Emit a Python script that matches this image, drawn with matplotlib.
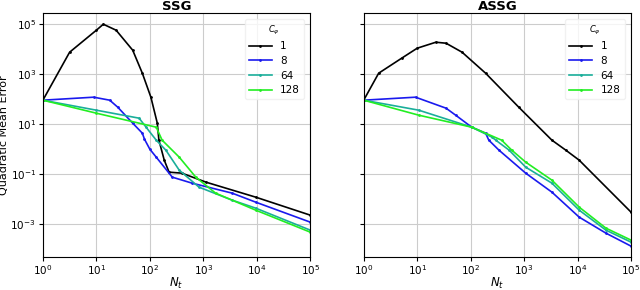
import numpy as np
import matplotlib.pyplot as plt

# values, as log10 exponents (x = log10 N_t, y = log10 error)
cphi = ["1", "8", "64", "128"]
colors = ["black", "#1a1aee", "#1aae9a", "#22ee22"]

ssg_x = [
    [0, 0.5, 1.0, 1.13, 1.37, 1.68, 1.86, 2.02, 2.14, 2.17, 2.27, 2.36, 2.6, 3.05, 3.98, 5.0],
    [0, 0.95, 1.25, 1.4, 1.68, 1.86, 1.9, 2.0, 2.12, 2.42, 2.79, 3.54, 3.98, 5.0],
    [0, 1.0, 1.8, 1.93, 2.12, 2.3, 2.55, 2.92, 3.54, 3.98, 5.0],
    [0, 1.0, 2.12, 2.23, 2.55, 2.86, 3.23, 3.98, 5.0],
]
ssg_y = [
    [1.96, 3.88, 4.76, 5.0, 4.76, 3.96, 3.04, 2.08, 1.04, 0.36, -0.44, -0.92, -0.96, -1.32, -1.92, -2.64],
    [1.96, 2.08, 1.96, 1.68, 1.04, 0.64, 0.4, 0.0, -0.32, -1.12, -1.36, -1.76, -2.12, -2.92],
    [1.96, 1.56, 1.24, 0.88, 0.36, -0.04, -0.84, -1.52, -2.04, -2.36, -3.24],
    [1.96, 1.44, 0.88, 0.36, -0.32, -1.12, -1.76, -2.44, -3.32],
]

assg_x = [
    [0, 0.28, 0.71, 1.0, 1.35, 1.54, 1.84, 2.28, 2.9, 3.52, 3.78, 4.03, 5.0],
    [0, 0.97, 1.54, 1.72, 2.02, 2.28, 2.34, 2.53, 3.03, 3.52, 4.03, 4.53, 5.0],
    [0, 1.03, 2.02, 2.4, 2.47, 2.72, 3.03, 3.52, 4.03, 4.53, 5.0],
    [0, 1.03, 2.02, 2.58, 2.77, 3.03, 3.52, 4.03, 4.53, 5.0],
]
assg_y = [
    [1.96, 3.04, 3.64, 4.04, 4.28, 4.24, 3.88, 3.04, 1.68, 0.36, -0.04, -0.44, -2.52],
    [1.96, 2.08, 1.64, 1.36, 0.88, 0.64, 0.36, -0.04, -0.96, -1.72, -2.72, -3.36, -3.88],
    [1.96, 1.56, 0.88, 0.48, 0.36, -0.04, -0.72, -1.36, -2.44, -3.24, -3.72],
    [1.96, 1.36, 0.88, 0.36, -0.04, -0.52, -1.24, -2.32, -3.16, -3.64],
]

fig, axes = plt.subplots(1, 2, figsize=(6.4, 2.9), dpi=100, sharey=True)
plt.subplots_adjust(left=0.067, right=0.986, top=0.955, bottom=0.115, wspace=0.2)

panels = [("SSG", ssg_x, ssg_y), ("ASSG", assg_x, assg_y)]
for ax, (title, xs, ys) in zip(axes, panels):
    for lab, c, lx, ly in zip(cphi, colors, xs, ys):
        ax.plot(10.0 ** np.array(lx), 10.0 ** np.array(ly), color=c, lw=1.2,
                marker=".", markersize=2, label=lab)
    ax.set_xscale("log")
    ax.set_yscale("log")
    ax.set_xlim(1, 1e5)
    ax.set_ylim(5e-5, 2.8e5)
    ax.set_title(title, fontsize=9.5, fontweight="bold", pad=2)
    ax.set_xlabel("$N_t$", fontsize=8.5, labelpad=-1)
    ax.grid(True, color="#cccccc", lw=0.8)
    ax.set_yticks([1e-3, 1e-1, 1e1, 1e3, 1e5])
    ax.set_xticks([1, 10, 1e2, 1e3, 1e4, 1e5])
    ax.minorticks_off()
    ax.tick_params(labelsize=7.5, length=3, pad=2)
    ax.legend(title="$C_\\varphi$", fontsize=7.5, title_fontsize=6,
              loc="upper right", framealpha=0.8, edgecolor="#eeeeee",
              handlelength=2.2, labelspacing=0.45, borderaxespad=0.6)

axes[0].set_ylabel("Quadratic Mean Error", fontsize=8, labelpad=1)

plt.savefig("out.png")
